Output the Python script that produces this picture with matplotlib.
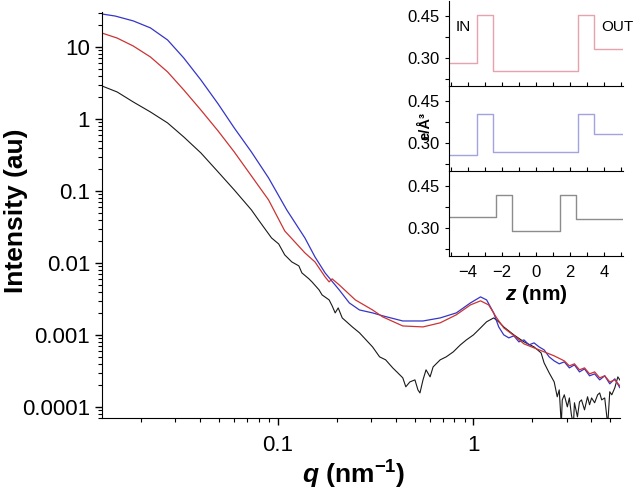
import matplotlib.pyplot as plt
import numpy as np
from matplotlib.ticker import LogLocator, FuncFormatter, NullFormatter, MultipleLocator, FixedLocator

plt.rcParams['font.family'] = ['Liberation Sans', 'DejaVu Sans']
plt.rcParams['mathtext.fontset'] = 'custom'
plt.rcParams['mathtext.rm'] = 'Liberation Sans:bold'
plt.rcParams['mathtext.it'] = 'Liberation Sans:italic:bold'
plt.rcParams['mathtext.bf'] = 'Liberation Sans:bold'

# ---- SAXS curves ----
blue_q = [0.01268, 0.0148, 0.01832, 0.02241, 0.02742, 0.03316, 0.04056, 0.04965, 0.06004, 0.07345,
          0.08987, 0.1113, 0.1378, 0.1551, 0.1747, 0.2062, 0.2323, 0.2616, 0.3052, 0.3436,
          0.4355, 0.5524, 0.6761, 0.8172, 0.965, 1.0866, 1.1668, 1.268, 1.3456, 1.4277,
          1.5149, 1.6074, 1.7061, 1.8102, 1.9207, 2.038, 2.1624, 2.2945, 2.4345, 2.5831,
          2.7412, 2.9092, 3.0873, 3.2773, 3.4774, 3.6898, 3.9151, 4.1559, 4.4096, 4.6786,
          4.9652, 5.2683, 5.5903, 5.7933, 5.9333, 6.1485]
blue_I = [28.7, 26.9, 23.0, 18.4, 12.5, 7.03, 3.48, 1.62, 0.750, 0.348,
          0.1516, 0.0545, 0.0222, 0.01212, 0.00726, 0.00422, 0.00278, 0.00222, 0.00202, 0.00184,
          0.00156, 0.00156, 0.00172, 0.00202, 0.00278, 0.00337, 0.00306, 0.00202, 0.00129, 0.00100,
          0.000909, 0.000969, 0.000800, 0.000852, 0.000726, 0.000774, 0.000681, 0.000619, 0.000495, 0.000435,
          0.000396, 0.000422, 0.000348, 0.000383, 0.000306, 0.000337, 0.000270, 0.000287, 0.000237, 0.000270,
          0.000209, 0.000245, 0.000184, 0.000222, 0.000178, 0.000196]

red_q = [0.01268, 0.01515, 0.01832, 0.02241, 0.02742, 0.03316, 0.04056, 0.04965, 0.06004, 0.07345,
         0.08987, 0.1087, 0.1378, 0.1551, 0.1747, 0.1832, 0.1898, 0.2062, 0.2493, 0.3052,
         0.3436, 0.4355, 0.5524, 0.6761, 0.8172, 0.965, 1.0866, 1.1949, 1.314, 1.4277,
         1.6656, 1.8102, 2.038, 2.2945, 2.5831, 2.9092, 3.0873, 3.2773, 3.4774, 3.6898,
         3.9151, 4.1559, 4.4096, 4.6786, 4.9652, 5.2683, 5.5903, 5.7933, 5.9333, 6.1485]
red_I = [15.6, 13.3, 10.3, 7.26, 4.50, 2.53, 1.33, 0.681, 0.348, 0.1616,
         0.0750, 0.0278, 0.01377, 0.01032, 0.00639, 0.00545, 0.00600, 0.00495, 0.00306, 0.00222,
         0.00178, 0.00133, 0.00129, 0.00147, 0.00190, 0.00261, 0.00297, 0.00261, 0.00172, 0.00125,
         0.000909, 0.000750, 0.000660, 0.000581, 0.000511, 0.000435, 0.000371, 0.000396, 0.000327, 0.000348,
         0.000287, 0.000306, 0.000253, 0.000270, 0.000222, 0.000237, 0.000196, 0.000215, 0.000178, 0.000196]

black_q = [0.01268, 0.01515, 0.01832, 0.02241, 0.02742, 0.03316, 0.04056, 0.04965, 0.06004, 0.07345,
           0.0798, 0.0931, 0.1012, 0.1087, 0.1181, 0.1283, 0.1330, 0.1445, 0.1497, 0.1627,
           0.1686, 0.1832, 0.1898, 0.1967, 0.2038, 0.2137, 0.2406, 0.2616, 0.3052, 0.3316,
           0.3560, 0.3869, 0.4106, 0.4355, 0.4513, 0.4733, 0.5024, 0.5205, 0.5330, 0.5524,
           0.5725, 0.6004, 0.6221, 0.6761, 0.7257, 0.7888, 0.8570, 0.9203, 1.0, 1.0866,
           1.1668, 1.268, 1.3456, 1.4277, 1.6074, 1.8102, 2.038, 2.2144, 2.2945, 2.4345,
           2.5831, 2.6771, 2.7412, 2.8078, 2.8408, 2.9092, 3.0149, 3.0873, 3.1623, 3.2385,
           3.2773, 3.3957, 3.4774, 3.561, 3.6898, 3.8232, 3.9151, 4.0091, 4.1559, 4.3053,
           4.4096, 4.5155, 4.6786, 4.8484, 4.9652, 5.0845, 5.2683, 5.4593, 5.7246, 5.9333,
           6.1485]
black_I = [2.87, 2.37, 1.72, 1.25, 0.880, 0.562, 0.337, 0.1836, 0.1032, 0.0545,
           0.0396, 0.0222, 0.01836, 0.01292, 0.01032, 0.00909, 0.00726, 0.00600, 0.00545, 0.00422,
           0.00359, 0.00306, 0.00253, 0.00202, 0.00237, 0.00172, 0.00129, 0.00107, 0.000681, 0.000495,
           0.000450, 0.000348, 0.000297, 0.000253, 0.000190, 0.000222, 0.000237, 0.000172, 0.000156, 0.000237,
           0.000327, 0.000261, 0.000359, 0.000450, 0.000495, 0.000581, 0.000726, 0.000852, 0.00100, 0.00125,
           0.00152, 0.00172, 0.00152, 0.00129, 0.00100, 0.000800, 0.000681, 0.000562, 0.000408, 0.000297,
           0.000222, 0.000138, 0.000172, 0.0000562, 0.000125, 0.000147, 0.000100, 0.000133, 0.0000774, 0.0000562,
           0.000114, 0.0000726, 0.000117, 0.000125, 0.0000908, 0.000138, 0.000107, 0.000133, 0.000114, 0.000147,
           0.000156, 0.000125, 0.000133, 0.0000562, 0.000162, 0.000147, 0.000184, 0.000261, 0.000215, 0.000237,
           0.000202]

# ---- electron density profiles (inset) ----
z_red = [-5.1, -3.43, -2.5, 2.49, 3.41, 5.1]
rho_red = [0.284, 0.455, 0.254, 0.455, 0.333, 0.333]
z_blue = [-5.1, -3.43, -2.5, 2.49, 3.41, 5.1]
rho_blue = [0.260, 0.404, 0.270, 0.404, 0.332, 0.332]
z_black = [-5.1, -2.37, -1.43, 1.43, 2.35, 5.1]
rho_black = [0.341, 0.418, 0.290, 0.418, 0.332, 0.332]

y_ticks = [10, 1, 0.1, 0.01, 0.001, 0.0001]
inset_yticks = [0.30, 0.45]
inset_xticks = [-4, -2, 0, 2, 4]

W, H = 635, 490
fig = plt.figure(figsize=(W / 100, H / 100), dpi=100)

ax = fig.add_axes([102 / W, 1 - 418 / H, (620 - 102) / W, (418 - 12) / H])
ax.plot(black_q, black_I, color='#1a1a1a', lw=0.8)
ax.plot(blue_q, blue_I, color='#3535c8', lw=0.9)
ax.plot(red_q, red_I, color='#cc3333', lw=0.9)
ax.set_xscale('log')
ax.set_yscale('log')
ax.set_xlim(0.01268, 5.6)
ax.set_ylim(7.0e-5, 30.6)

ax.yaxis.set_major_locator(FixedLocator(y_ticks))
ax.yaxis.set_minor_locator(LogLocator(base=10, subs=np.arange(2, 10), numticks=30))
ax.xaxis.set_major_locator(FixedLocator([0.1, 1]))
ax.xaxis.set_minor_locator(LogLocator(base=10, subs=np.arange(2, 10), numticks=30))
fmt = FuncFormatter(lambda v, _: f'{v:g}')
ax.yaxis.set_major_formatter(fmt)
ax.xaxis.set_major_formatter(fmt)
ax.yaxis.set_minor_formatter(NullFormatter())
ax.xaxis.set_minor_formatter(NullFormatter())
ax.tick_params(which='major', direction='out', length=5, width=1, labelsize=16)
ax.tick_params(axis='x', which='major', pad=7)
ax.tick_params(which='minor', direction='out', length=3, width=0.8)
for s in ['top', 'right']:
    ax.spines[s].set_visible(False)

fig.text(16 / W, 1 - 211 / H, 'Intensity (au)', fontsize=19, fontweight='bold',
         rotation=90, ha='center', va='center')
fig.text(354 / W, 1 - 475 / H, r'$q$ (nm$^{-1}$)', fontsize=19, fontweight='bold',
         ha='center', va='center')

# ---- inset: three stacked profiles ----
panels = [(z_red, rho_red, '#e6a3ad'), (z_blue, rho_blue, '#a3a3e0'), (z_black, rho_black, '#8c8c8c')]
tops = [1, 86, 171]
ph = 85.5
for i, (zz, rr, c) in enumerate(panels):
    ia = fig.add_axes([449 / W, 1 - (tops[i] + ph) / H, (623 - 449) / W, ph / H])
    ia.step(zz, rr, where='post', color=c, lw=1.0)
    ia.set_xlim(-5.1, 5.1)
    ia.set_ylim(0.2, 0.505)
    ia.patch.set_alpha(0)
    for s in ['top', 'right']:
        ia.spines[s].set_visible(False)
    ia.yaxis.set_major_locator(FixedLocator(inset_yticks))
    ia.yaxis.set_minor_locator(MultipleLocator(0.075))
    ia.yaxis.set_major_formatter(FuncFormatter(lambda v, _: f'{v:.2f}'))
    ia.xaxis.set_major_locator(FixedLocator(inset_xticks))
    ia.xaxis.set_minor_locator(MultipleLocator(1))
    ia.tick_params(axis='y', which='both', direction='out', length=3, width=0.8, labelsize=12)
    ia.tick_params(axis='x', which='both', direction='in', length=3, width=0.8, labelsize=12, pad=6)
    if i < 2:
        ia.tick_params(axis='x', labelbottom=False)

fig.text(536 / W, 1 - 295 / H, r'$z$ (nm)', fontsize=15, fontweight='bold', ha='center', va='center')
fig.text(463 / W, 1 - 27 / H, 'IN', fontsize=11, ha='center', va='center')
fig.text(617 / W, 1 - 27 / H, 'OUT', fontsize=11, ha='center', va='center')
fig.text(425 / W, 1 - 126 / H, 'e/Å³', fontsize=10.5, fontweight='bold', rotation=90,
         ha='center', va='center')

fig.savefig('out.png', dpi=100)
